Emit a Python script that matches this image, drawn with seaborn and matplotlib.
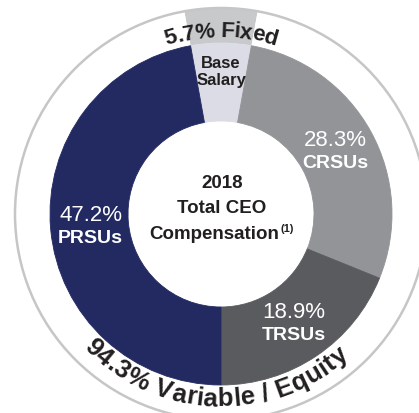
import numpy as np
import matplotlib
matplotlib.use("Agg")
import matplotlib.pyplot as plt
import seaborn as sns
from matplotlib.patches import Circle
from matplotlib.font_manager import FontProperties, findfont, get_font

# Pay components (inner ring) and pay mix (outer ring), in percent
components = ["Base Salary", "CRSUs", "TRSUs", "PRSUs"]
shares = [5.7, 28.3, 18.9, 47.2]
mix_labels = ["Fixed", "Variable / Equity"]
mix_shares = [5.7, 94.3]
center_lines = ["2018", "Total CEO", "Compensation"]
footnote = "(1)"

sns.set_theme(style="white")
plt.rcParams["font.family"] = ["Liberation Sans", "DejaVu Sans"]

W, H, DPI = 419, 414, 100
fig = plt.figure(figsize=(W / DPI, H / DPI), dpi=DPI)
ax = fig.add_axes([0, 0, 1, 1])

cx, cy = 221, 199
R_PIE, R_HOLE, R_OUT = 171, 93, 206
DARK = "#221f20"

inner_colors = ["#dcdce6", "#929497", "#5a5b5e", "#222a61"]
outer_colors = ["#c8c9cb", "white"]

total = sum(shares)
start = 90 + 360 * shares[0] / total / 2

# outer ring: fixed vs variable pay
outer, _ = ax.pie(mix_shares, colors=outer_colors,
                  startangle=90 + 360 * mix_shares[0] / sum(mix_shares) / 2,
                  counterclock=False, radius=R_OUT, center=(cx, cy),
                  wedgeprops=dict(width=R_OUT - R_PIE, linewidth=0))
ax.add_patch(Circle((cx, cy), R_OUT, fill=False, ec="#c6c6c6", lw=1.8))

# inner donut: pay components
inner, _ = ax.pie(shares, colors=inner_colors, startangle=start, counterclock=False,
                  radius=R_PIE, center=(cx, cy),
                  wedgeprops=dict(width=R_PIE - R_HOLE))
for w in inner:
    w.set_edgecolor(w.get_facecolor())
    w.set_linewidth(0.6)

ax.set_xlim(0, W)
ax.set_ylim(0, H)
ax.set_aspect("equal")
ax.axis("off")


def advances(s, fp):
    font = get_font(findfont(fp))
    font.set_size(fp.get_size_in_points(), DPI)
    return np.array([font.load_char(ord(c)).linearHoriAdvance / 65536 for c in s])


def arc_text(s, theta_mid, r_mid, size, bottom, color=DARK):
    fp = FontProperties(family="Liberation Sans", weight="bold", size=size)
    adv = advances(s, fp)
    pos = np.cumsum(adv) - adv / 2 - adv.sum() / 2
    cap = 0.72 * size * DPI / 72
    th0 = np.deg2rad(theta_mid)
    for ch, p in zip(s, pos):
        if ch == " ":
            continue
        if bottom:
            th = th0 + p / r_mid
            rb = r_mid + cap / 2
            rot = np.rad2deg(th) + 90
        else:
            th = th0 - p / r_mid
            rb = r_mid - cap / 2
            rot = np.rad2deg(th) - 90
        ax.text(cx + rb * np.cos(th), cy + rb * np.sin(th), ch, rotation=rot,
                rotation_mode="anchor", ha="center", va="baseline",
                fontproperties=fp, color=color)


# segment labels
cum = 0.0
for name, v in zip(components, shares):
    mid = np.deg2rad(start - 360 * (cum + v / 2) / total)
    cum += v
    if name == "Base Salary":
        for word, r in zip(name.split(), [151, 134]):
            ax.text(cx + r * np.cos(mid), cy + r * np.sin(mid), word, ha="center",
                    va="center", fontsize=12, fontweight="bold", color=DARK)
        continue
    r = 131
    x, y = cx + r * np.cos(mid), cy + r * np.sin(mid)
    ax.text(x, y + 11, f"{v:.1f}%", ha="center", va="center", fontsize=16,
            color="white")
    ax.text(x, y - 11.5, name, ha="center", va="center", fontsize=14,
            fontweight="bold", color="white")

# outer ring labels
arc_text(f"{mix_shares[0]:.1f}% {mix_labels[0]}", 90, 186, 16, bottom=False)
arc_text(f"{mix_shares[1]:.1f}% {mix_labels[1]}", 268, 182, 18.5, bottom=True)

# center title
tx = 222
ax.text(tx, 226.5, center_lines[0], ha="center", va="baseline", fontsize=13.5,
        fontweight="bold", color=DARK)
ax.text(tx, 200.6, center_lines[1], ha="center", va="baseline", fontsize=13.5,
        fontweight="bold", color=DARK)
fp_main = FontProperties(family="Liberation Sans", weight="bold", size=13.5)
fp_sup = FontProperties(family="Liberation Sans", weight="bold", size=8)
w_main = advances(center_lines[2], fp_main).sum()
w_sup = advances(footnote, fp_sup).sum()
x0 = tx - (w_main + w_sup + 1) / 2
ax.text(x0, 174.6, center_lines[2], ha="left", va="baseline", fontproperties=fp_main,
        color=DARK)
ax.text(x0 + w_main + 1, 182, footnote, ha="left", va="baseline", fontproperties=fp_sup,
        color=DARK)

fig.savefig("out.png", dpi=DPI, facecolor="white")
